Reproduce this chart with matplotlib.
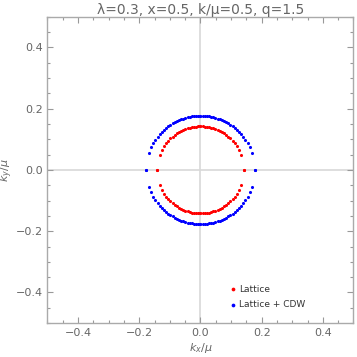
import numpy as np
import matplotlib
matplotlib.use("Agg")
import matplotlib.pyplot as plt
from matplotlib.ticker import MultipleLocator

# Quadrant data (kx >= 0, ky >= 0); other quadrants by symmetry
lat_kx = [0.142, 0.133, 0.126, 0.119, 0.112, 0.105, 0.098, 0.091, 0.084, 0.077, 0.070,
          0.063, 0.056, 0.049, 0.042, 0.035, 0.028, 0.021, 0.014, 0.007, 0.0]
lat_ky = [0.0, 0.0497, 0.0655, 0.0775, 0.0873, 0.0956, 0.1028, 0.1090, 0.1145, 0.1193, 0.1235,
          0.1273, 0.1305, 0.1333, 0.1356, 0.1376, 0.1392, 0.1404, 0.1413, 0.1418, 0.142]

cdw_kx = [0.178, 0.168, 0.161, 0.154, 0.147, 0.140, 0.133, 0.126, 0.119, 0.112, 0.105,
          0.098, 0.091, 0.084, 0.077, 0.070, 0.063, 0.056, 0.049, 0.042, 0.035,
          0.028, 0.021, 0.014, 0.007, 0.0]
cdw_ky = [0.0, 0.0557, 0.0735, 0.0873, 0.0986, 0.1083, 0.1168, 0.1243, 0.1310, 0.1371, 0.1425,
          0.1474, 0.1518, 0.1558, 0.1594, 0.1626, 0.1654, 0.1679, 0.1701, 0.1719, 0.1735,
          0.1748, 0.1757, 0.1764, 0.1769, 0.177]

labels = ["Lattice", "Lattice + CDW"]
title = "\u03bb=0.3, x=0.5, k/\u03bc=0.5, q=1.5"


def full(kx, ky):
    kx = np.asarray(kx); ky = np.asarray(ky)
    X = np.concatenate([kx, -kx, kx, -kx])
    Y = np.concatenate([ky, ky, -ky, -ky])
    return X, Y

gray = "#666666"
fig = plt.figure(figsize=(3.57, 3.57), dpi=100)
ax = fig.add_axes([0.133, 0.095, 0.857, 0.858])
ax.axhline(0, color="#d8d8d8", lw=1.2, zorder=0)
ax.axvline(0, color="#d8d8d8", lw=1.2, zorder=0)

x1, y1 = full(lat_kx, lat_ky)
x2, y2 = full(cdw_kx, cdw_ky)
ax.scatter(x1, y1, s=5, color="#ff0000", lw=0, label=labels[0], zorder=3)
ax.scatter(x2, y2, s=5, color="#0000ff", lw=0, label=labels[1], zorder=3)

ax.set_xlim(-0.5, 0.5)
ax.set_ylim(-0.5, 0.5)
ax.xaxis.set_major_locator(MultipleLocator(0.2))
ax.yaxis.set_major_locator(MultipleLocator(0.2))
ax.xaxis.set_minor_locator(MultipleLocator(0.05))
ax.yaxis.set_minor_locator(MultipleLocator(0.05))
fmt = matplotlib.ticker.FuncFormatter(lambda v, p: ("%.1f" % v).replace("-", "\u2212") if abs(v) > 1e-9 else "0.0")
ax.xaxis.set_major_formatter(fmt)
ax.yaxis.set_major_formatter(fmt)
ax.tick_params(which="both", direction="in", top=True, right=True, color="#999999",
               labelcolor=gray, labelsize=8, width=0.8)
ax.tick_params(which="major", length=4)
ax.tick_params(which="minor", length=2)
for s in ax.spines.values():
    s.set_color("#aaaaaa")
    s.set_linewidth(1.0)

ax.set_xlabel(r"$k_x/\mu$", color=gray, fontsize=8, labelpad=2)
ax.set_ylabel(r"$k_y/\mu$", color=gray, fontsize=8, labelpad=0)
ax.set_title(title, color=gray, fontsize=10, pad=2)

leg = ax.legend(loc="lower left", bbox_to_anchor=(0.592, 0.045), frameon=False, fontsize=6.5,
                handlelength=1.0, handletextpad=0.2, markerscale=1.2, labelspacing=0.75,
                labelcolor="#333333", borderaxespad=0, borderpad=0)

fig.savefig("out.png", dpi=100)
